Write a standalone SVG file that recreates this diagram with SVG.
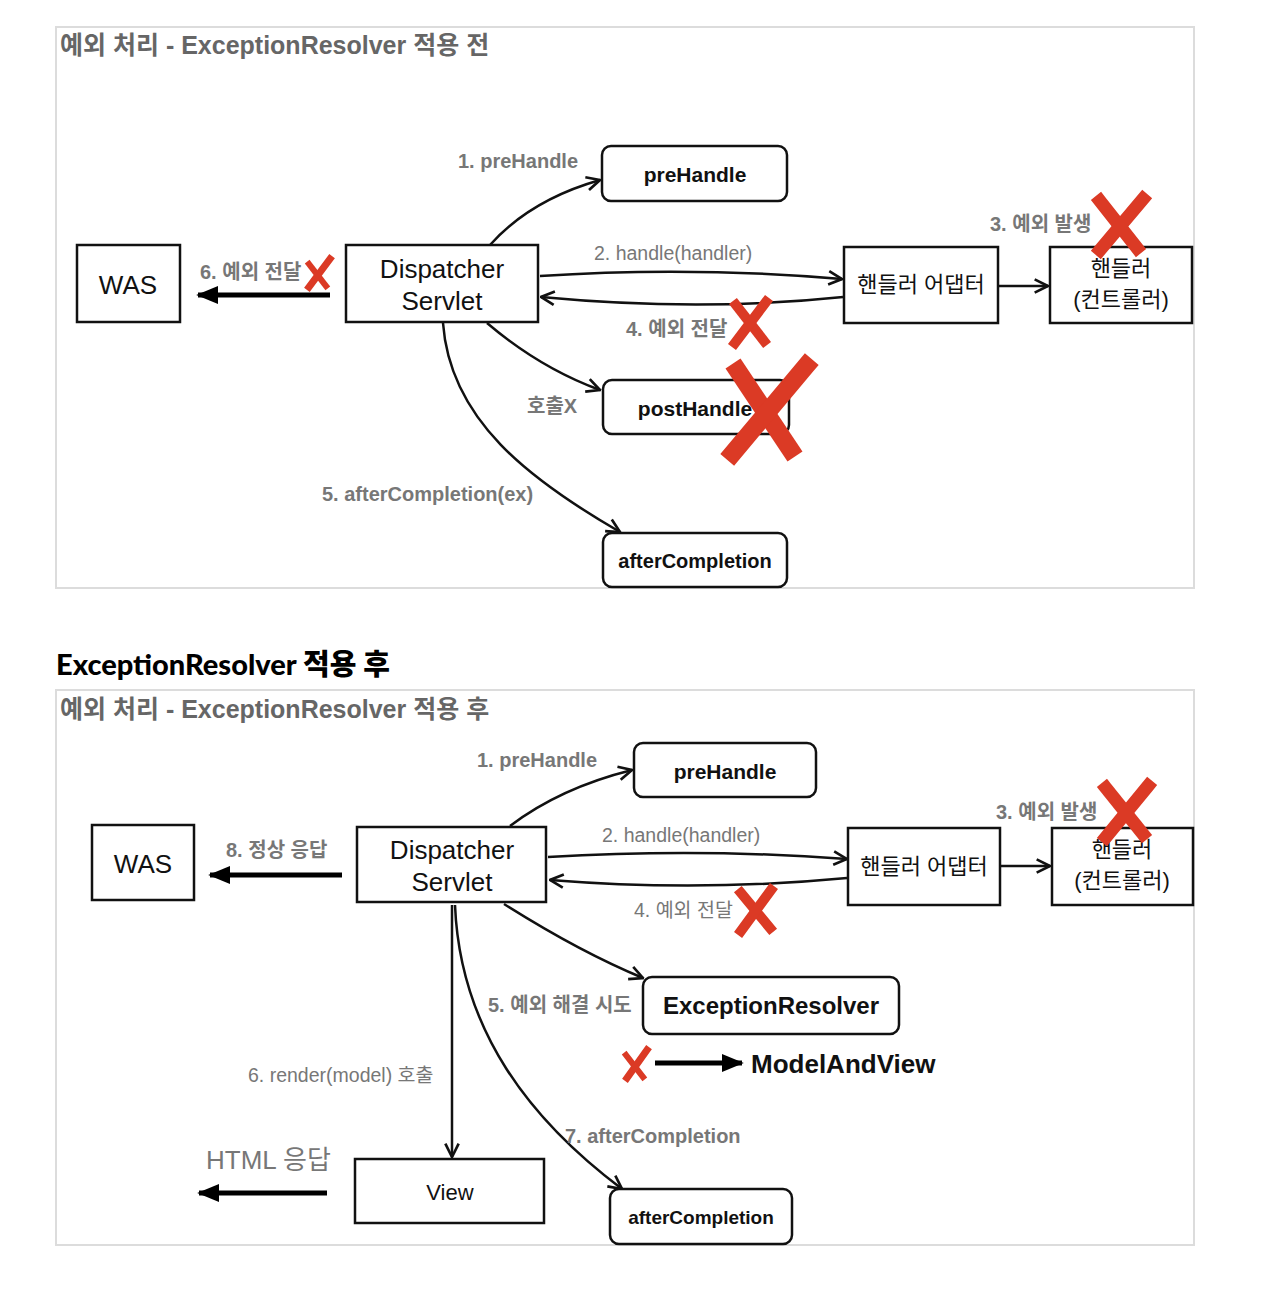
<svg xmlns="http://www.w3.org/2000/svg" width="1264" height="1296" viewBox="0 0 1264 1296">
<style>
.frame{fill:none;stroke:#dcdcdc;stroke-width:2}
.box{fill:#fff;stroke:#111;stroke-width:2.5}
.rbox{fill:#fff;stroke:#111;stroke-width:2.5}
.t{font-family:"Liberation Sans","Noto Sans CJK KR",sans-serif;fill:#111}
.nt{font-size:26px;text-anchor:middle}
.kt{font-size:22px;text-anchor:middle}
.bt{font-weight:bold;text-anchor:middle}
.title{font-family:"Liberation Sans","Noto Sans CJK KR",sans-serif;font-size:25px;font-weight:bold;fill:#666}
.lb{font-family:"Liberation Sans","Noto Sans CJK KR",sans-serif;font-size:20px;font-weight:bold;fill:#777}
.lr{font-family:"Liberation Sans","Noto Sans CJK KR",sans-serif;font-size:19.5px;fill:#777}
.c{fill:none;stroke:#111;stroke-width:2.5;marker-end:url(#open)}
.thick{fill:none;stroke:#000;stroke-width:5;marker-end:url(#fill)}
.rx{fill:none;stroke:#db3a25;stroke-linecap:square}
</style>
<defs>
<marker id="open" viewBox="0 0 12 12" refX="11" refY="6" markerWidth="16" markerHeight="16" markerUnits="userSpaceOnUse" orient="auto">
<path d="M1,1 L11,6 L1,11" fill="none" stroke="#111" stroke-width="2"/>
</marker>
<marker id="fill" viewBox="0 0 12 12" refX="11" refY="6" markerWidth="22" markerHeight="22" markerUnits="userSpaceOnUse" orient="auto">
<path d="M0,1 L12,6 L0,11 Z" fill="#000"/>
</marker>
</defs>
<rect width="1264" height="1296" fill="#fff"/>

<!-- Panel 1 -->
<g id="panel1">
<rect class="frame" x="56" y="27" width="1138" height="561"/>
<text class="title" x="60" y="54">예외 처리 - ExceptionResolver 적용 전</text>
</g>

<g id="connectors1">
<path class="c" d="M490,245 Q530,200 600,180"/>
<path class="c" d="M540,276 Q690,266 842,279"/>
<path class="c" d="M843,297 Q700,312 541,297"/>
<path class="c" d="M998,286 L1048,286"/>
<path class="c" d="M487,323 Q540,368 600,390"/>
<path class="c" d="M443,323 C450,420 530,480 620,532"/>
<path class="thick" d="M330,295 L198,295"/>
<text class="lb" x="458" y="168">1. preHandle</text>
<text class="lr" x="594" y="260">2. handle(handler)</text>
<text class="lb" x="990" y="231">3. 예외 발생</text>
<text class="lb" x="626" y="336">4. 예외 전달</text>
<text class="lb" x="200" y="279">6. 예외 전달</text>
<text class="lb" x="527" y="413">호출X</text>
<text class="lb" x="322" y="501">5. afterCompletion(ex)</text>
</g>

<g id="was1"><rect class="box" x="77" y="245" width="103" height="77"/><text class="t nt" x="128" y="294">WAS</text></g>
<g id="ds1"><rect class="box" x="346" y="245" width="192" height="77"/><text class="t nt" x="442" y="278">Dispatcher</text><text class="t nt" x="442" y="310">Servlet</text></g>
<g id="pre1"><rect class="rbox" x="602" y="146" width="185" height="55" rx="9"/><text class="t bt" x="695" y="182" font-size="21">preHandle</text></g>
<g id="adapter1"><rect class="box" x="844" y="247" width="154" height="76"/><text class="t kt" x="921" y="292">핸들러 어댑터</text></g>
<g id="handler1"><rect class="box" x="1050" y="247" width="142" height="76"/><text class="t kt" x="1121" y="276">핸들러</text><text class="t kt" x="1121" y="307">(컨트롤러)</text></g>
<g id="post1"><rect class="rbox" x="603" y="380" width="186" height="54" rx="9"/><text class="t bt" x="695" y="416" font-size="21">postHandle</text></g>
<g id="after1"><rect class="rbox" x="603" y="533" width="184" height="54" rx="9"/><text class="t bt" x="695" y="568" font-size="20">afterCompletion</text></g>

<g id="marks1">
<path class="rx" stroke-width="6" d="M309,264 L326,286"/>
<path class="rx" stroke-width="7" d="M330,259 L309,287"/>
<path class="rx" stroke-width="10" d="M736,305 L764,341"/>
<path class="rx" stroke-width="10" d="M766,302 L735,343"/>
<path class="rx" stroke-width="13" d="M1100,201 L1137,248"/>
<path class="rx" stroke-width="13" d="M1143,199 L1100,250"/>
<path class="rx" stroke-width="18" d="M738,371 L790,449"/>
<path class="rx" stroke-width="18" d="M806,366 L733,453"/>
</g>

<!-- Panel 2 -->
<text x="56" y="675" font-family="Lato,'Liberation Sans','Noto Sans CJK KR',sans-serif" font-size="29" font-weight="900" fill="#000">ExceptionResolver 적용 후</text>
<g id="panel2">
<rect class="frame" x="56" y="690" width="1138" height="555"/>
<text class="title" x="60" y="718">예외 처리 - ExceptionResolver 적용 후</text>
</g>

<g id="connectors2">
<path class="c" d="M510,826 Q560,788 632,770"/>
<path class="c" d="M548,857 Q700,848 847,859"/>
<path class="c" d="M847,878 Q700,892 550,880"/>
<path class="c" d="M1001,866 L1050,866"/>
<path class="c" d="M504,904 Q580,952 643,978"/>
<path class="c" d="M452,905 L452,1157"/>
<path class="c" d="M455,905 C460,1030 530,1120 622,1189"/>
<path class="thick" d="M342,875 L210,875"/>
<path class="thick" d="M327,1193 L199,1193"/>
<path class="thick" d="M655,1063 L742,1063"/>
<text class="lb" x="477" y="767">1. preHandle</text>
<text class="lr" x="602" y="842">2. handle(handler)</text>
<text class="lb" x="996" y="819">3. 예외 발생</text>
<text class="lr" x="634" y="917">4. 예외 전달</text>
<text class="lb" x="226" y="857">8. 정상 응답</text>
<text class="lb" x="488" y="1012">5. 예외 해결 시도</text>
<text class="lr" x="248" y="1082">6. render(model) 호출</text>
<text class="lb" x="565" y="1143">7. afterCompletion</text>
<text class="lr" x="206" y="1169" style="font-size:26px">HTML 응답</text>
</g>

<g id="was2"><rect class="box" x="92" y="825" width="102" height="75"/><text class="t nt" x="143" y="873">WAS</text></g>
<g id="ds2"><rect class="box" x="357" y="827" width="189" height="75"/><text class="t nt" x="452" y="859">Dispatcher</text><text class="t nt" x="452" y="891">Servlet</text></g>
<g id="pre2"><rect class="rbox" x="634" y="743" width="182" height="54" rx="9"/><text class="t bt" x="725" y="779" font-size="21">preHandle</text></g>
<g id="adapter2"><rect class="box" x="848" y="828" width="152" height="77"/><text class="t kt" x="924" y="874">핸들러 어댑터</text></g>
<g id="handler2"><rect class="box" x="1052" y="828" width="141" height="77"/><text class="t kt" x="1122" y="857">핸들러</text><text class="t kt" x="1122" y="888">(컨트롤러)</text></g>
<g id="resolver2"><rect class="rbox" x="643" y="977" width="256" height="57" rx="9"/><text class="t bt" x="771" y="1014" font-size="24">ExceptionResolver</text></g>
<g id="mav2"><text class="t" x="751" y="1073" font-size="26" font-weight="bold">ModelAndView</text></g>
<g id="view2"><rect class="box" x="355" y="1159" width="189" height="64"/><text class="t" x="450" y="1200" font-size="22" text-anchor="middle">View</text></g>
<g id="after2"><rect class="rbox" x="610" y="1189" width="182" height="55" rx="9"/><text class="t bt" x="701" y="1224" font-size="19">afterCompletion</text></g>

<g id="marks2">
<path class="rx" stroke-width="10" d="M741,893 L770,928"/>
<path class="rx" stroke-width="10" d="M771,890 L741,931"/>
<path class="rx" stroke-width="13" d="M1106,788 L1143,834"/>
<path class="rx" stroke-width="13" d="M1148,786 L1106,837"/>
<path class="rx" stroke-width="6" d="M626,1055 L643,1077"/>
<path class="rx" stroke-width="7" d="M647,1050 L627,1078"/>
</g>
</svg>
